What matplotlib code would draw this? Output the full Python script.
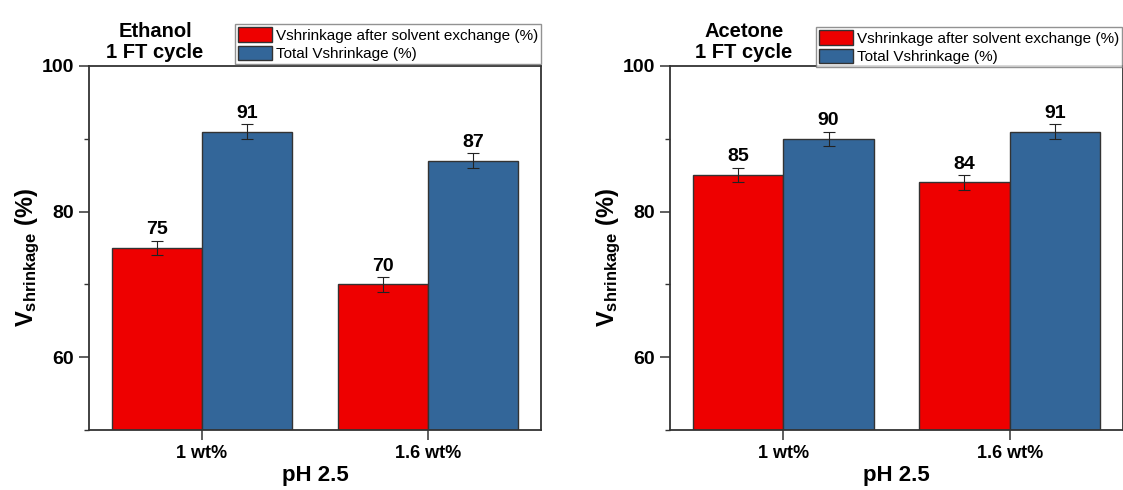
import matplotlib
matplotlib.use("Agg")
import matplotlib.pyplot as plt
import numpy as np
from matplotlib.ticker import MultipleLocator

plt.rcParams['font.family'] = ['Liberation Sans', 'DejaVu Sans']
plt.rcParams['mathtext.fontset'] = 'custom'
plt.rcParams['mathtext.rm'] = 'Liberation Sans'
plt.rcParams['mathtext.bf'] = 'Liberation Sans:bold'
plt.rcParams['mathtext.it'] = 'Liberation Sans:italic'

categories = ['1 wt%', '1.6 wt%']
series_names = ['Vshrinkage after solvent exchange (%)', 'Total Vshrinkage (%)']
ethanol_after = [75, 70]
ethanol_total = [91, 87]
ethanol_err_after = [1, 1]
ethanol_err_total = [1, 1]
acetone_after = [85, 84]
acetone_total = [90, 91]
acetone_err_after = [1, 1]
acetone_err_total = [1, 1]
titles = ['Ethanol\n1 FT cycle', 'Acetone\n1 FT cycle']
xlabel = 'pH 2.5'
ylabel = r'$\mathbf{V_{shrinkage}}$ (%)'

red = '#EE0000'
blue = '#336699'
edge = '#333333'

fig = plt.figure(figsize=(11.23, 4.9), dpi=100)
ax1 = fig.add_axes([89/1123, 60/490, 452/1123, 364/490])
ax2 = fig.add_axes([670/1123, 60/490, 453/1123, 364/490])

panels = [
    (ax1, ethanol_after, ethanol_total, ethanol_err_after, ethanol_err_total, titles[0], 1.115, 0.146, 1.0),
    (ax2, acetone_after, acetone_total, acetone_err_after, acetone_err_total, titles[1], 1.107, 0.163, 0.998),
]

w = 0.4
x = np.arange(len(categories))
for ax, a, t, ea, et, title, legy, titx, legx in panels:
    ax.bar(x - w/2, a, w, color=red, edgecolor=edge, linewidth=1.0,
           yerr=ea, error_kw=dict(ecolor='#222222', elinewidth=0.8, capsize=4, capthick=0.8),
           label=series_names[0], zorder=2)
    ax.bar(x + w/2, t, w, color=blue, edgecolor=edge, linewidth=1.0,
           yerr=et, error_kw=dict(ecolor='#222222', elinewidth=0.8, capsize=4, capthick=0.8),
           label=series_names[1], zorder=2)
    for xs, vals, errs in [(x - w/2, a, ea), (x + w/2, t, et)]:
        for xi, v, e in zip(xs, vals, errs):
            ax.text(xi, v + e + 0.35, f'{v}', ha='center', va='bottom',
                    fontsize=14, fontweight='bold')
    ax.set_ylim(50, 100)
    ax.set_xlim(-0.5, 1.5)
    ax.set_yticks([60, 80, 100])
    ax.yaxis.set_minor_locator(MultipleLocator(10))
    ax.set_xticks(x)
    ax.set_xticklabels(categories, fontsize=13, fontweight='bold')
    for lab in ax.get_yticklabels():
        lab.set_fontsize(14)
        lab.set_fontweight('bold')
    ax.tick_params(axis='both', which='major', direction='out', length=7, width=1.1, color='#333333', pad=4)
    ax.tick_params(axis='y', which='minor', direction='out', length=3.5, width=1.0, color='#333333')
    for s in ax.spines.values():
        s.set_linewidth(1.3)
        s.set_color('#333333')
    ax.set_xlabel(xlabel, fontsize=16, fontweight='bold', labelpad=2)
    ax.set_ylabel(ylabel, fontsize=17, fontweight='bold')
    ax.yaxis.set_label_coords(-0.104, 0.475)
    ax.text(titx, 1.012, title, transform=ax.transAxes, ha='center', va='bottom',
            fontsize=14.5, fontweight='bold', linespacing=1.1)
    leg = ax.legend(loc='upper right', bbox_to_anchor=(legx, legy),
                    fontsize=11, frameon=True, fancybox=False, borderaxespad=0,
                    handlelength=2.2, handleheight=1.1, handletextpad=0.25,
                    labelspacing=0.2, borderpad=0.2)
    leg.get_frame().set_edgecolor('#777777')
    leg.get_frame().set_linewidth(1.0)
    leg.set_zorder(5)

fig.savefig('out.png', dpi=100)
